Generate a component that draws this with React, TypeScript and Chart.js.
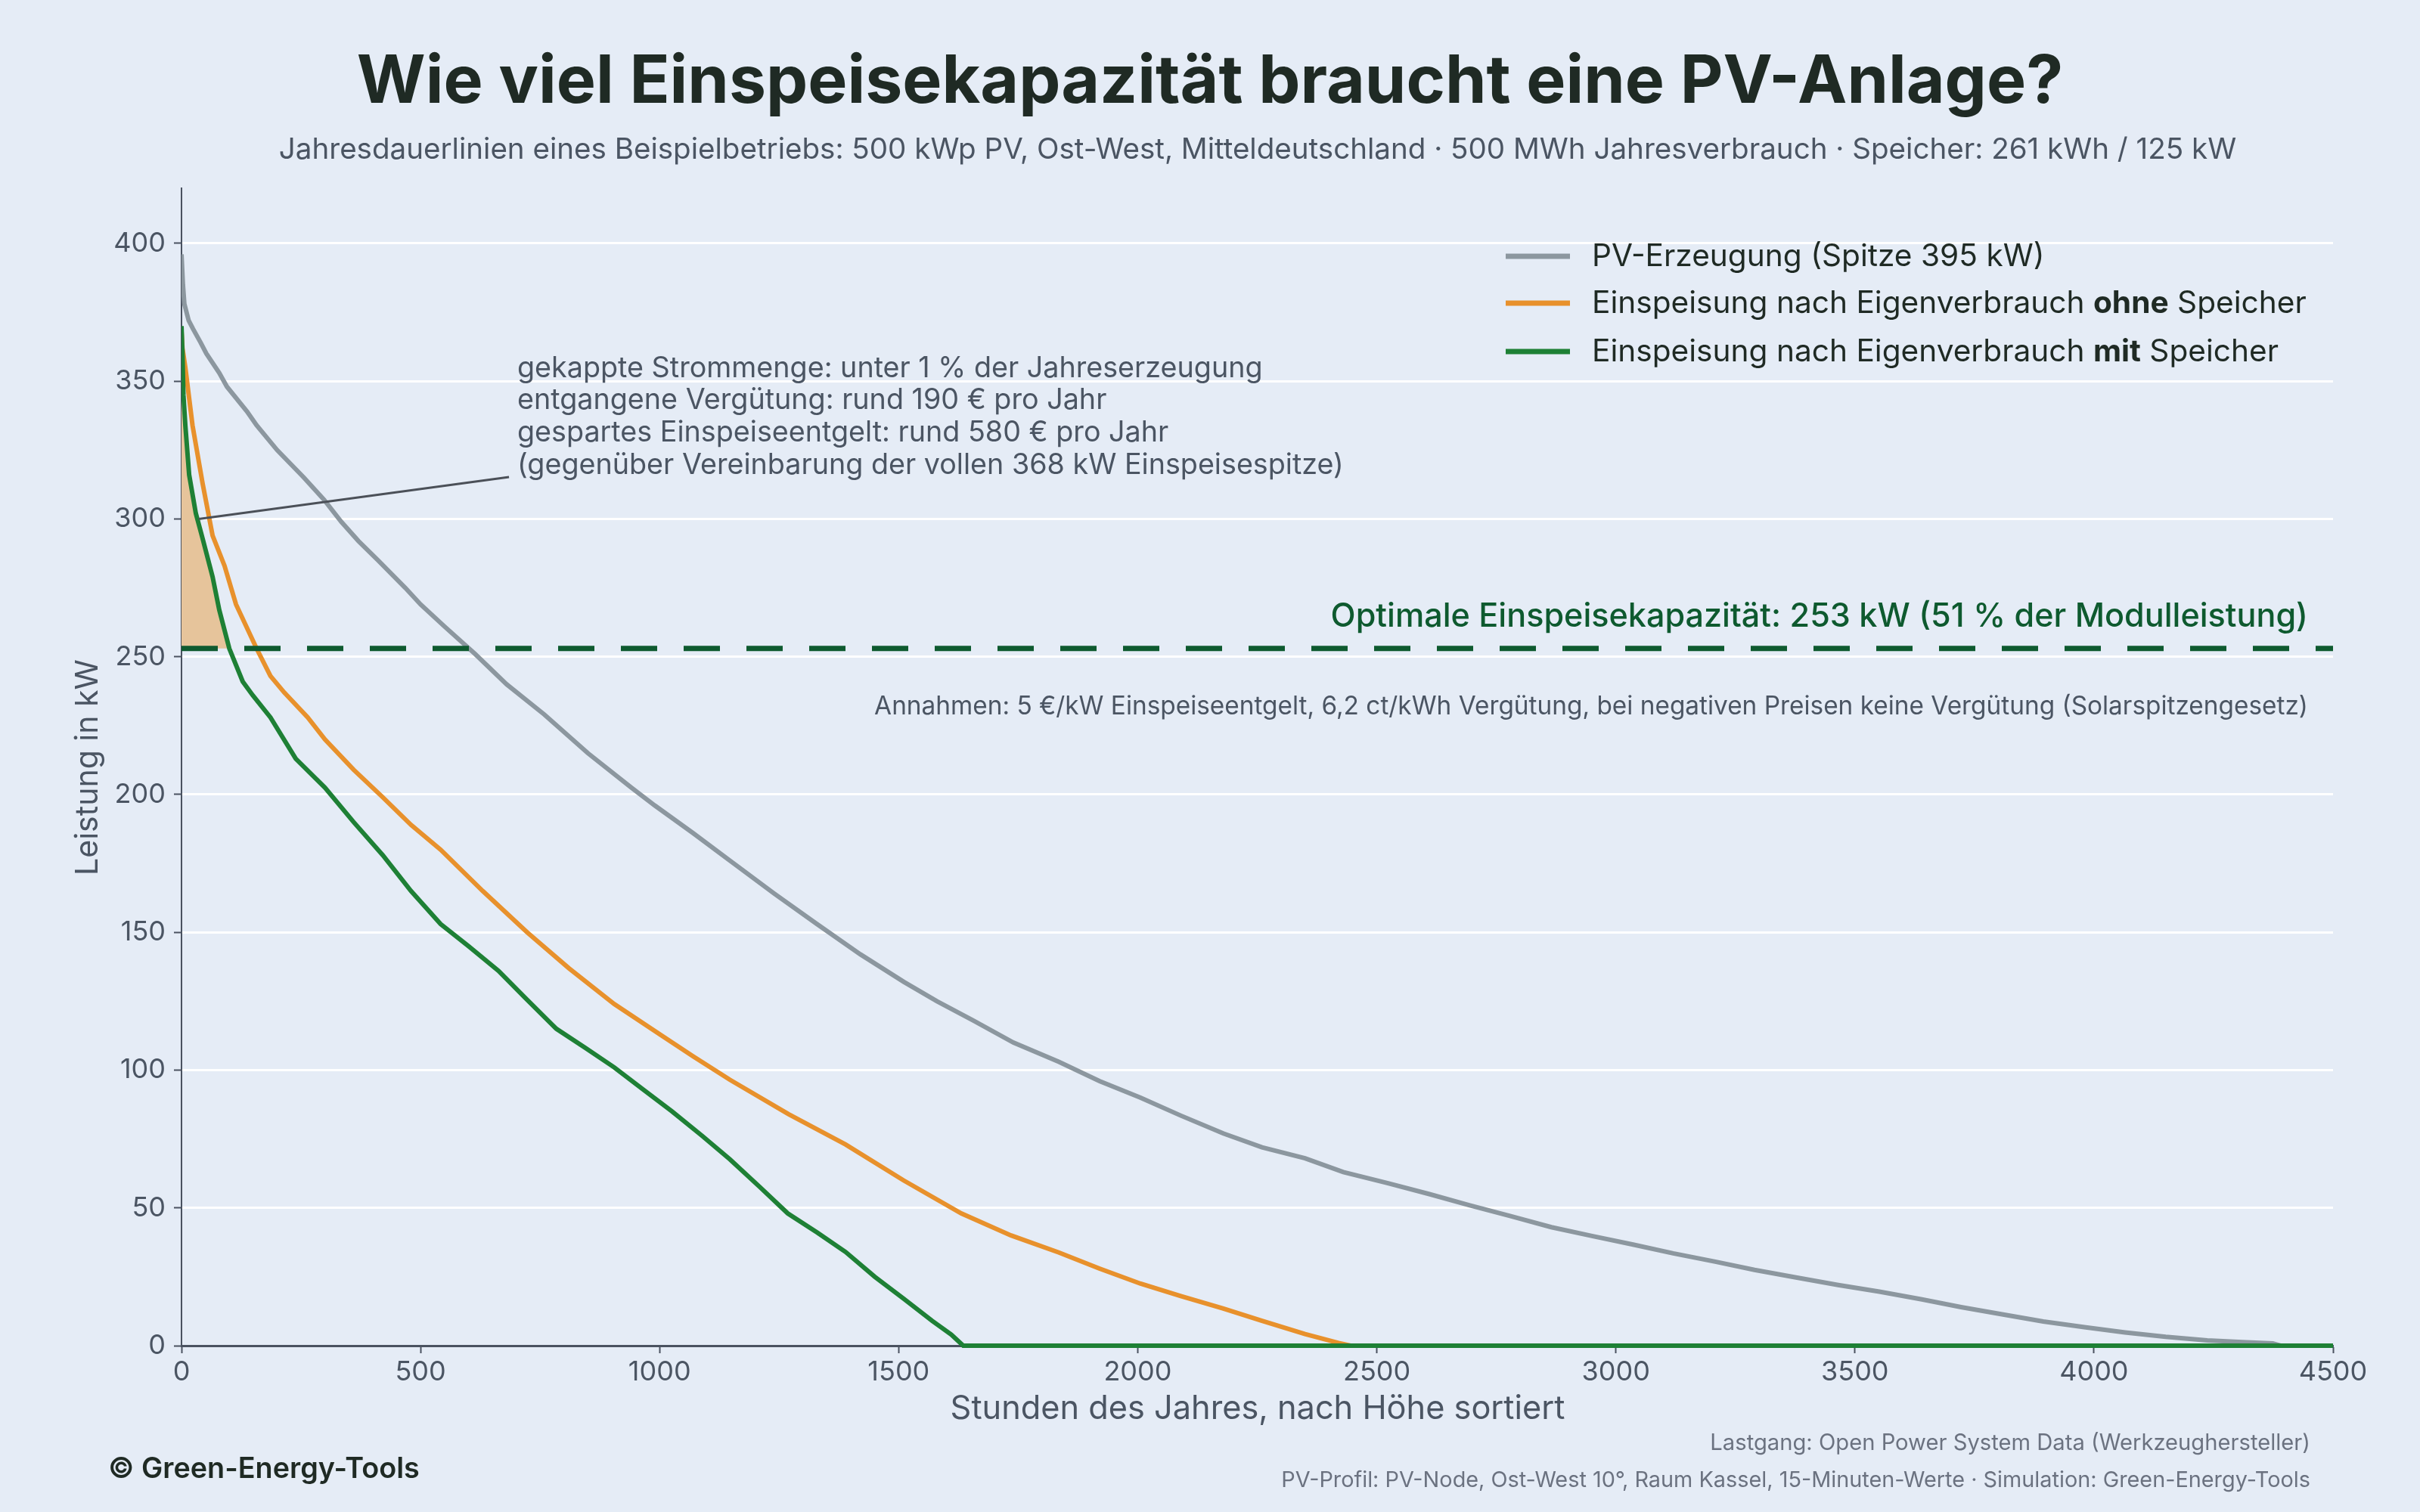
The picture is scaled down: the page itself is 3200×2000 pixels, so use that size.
import React, { useEffect, useRef } from 'react';
import { Chart, registerables } from 'chart.js';

Chart.register(...registerables);

// ---------- data ----------
const pvHours = [0, 3, 6, 15, 24, 40, 52, 79, 95, 137, 157, 200, 256, 298, 334, 370, 411, 468, 500, 550, 614, 680, 759, 850, 941, 990, 1070, 1147, 1240, 1329, 1420, 1511, 1580, 1656, 1740, 1835, 1920, 2006, 2090, 2179, 2260, 2350, 2430, 2522, 2610, 2693, 2780, 2865, 2950, 3036, 3120, 3208, 3290, 3379, 3465, 3551, 3640, 3722, 3810, 3894, 3980, 4065, 4150, 4237, 4310, 4374, 4390, 4500];
const pvKw = [396, 385, 378, 372, 369, 364, 360, 353, 348, 339, 334, 325, 315, 307, 299, 292, 285, 275, 269, 261, 251, 240, 229, 215, 202.5, 196, 186, 176, 164, 153, 142, 132, 125, 118, 110, 103, 96, 90, 83.5, 77, 72, 68, 63, 59, 55, 51, 47, 43, 39.8, 36.7, 33.5, 30.5, 27.5, 24.7, 22, 19.6, 16.8, 14, 11.3, 8.8, 6.7, 4.8, 3.2, 1.9, 1.3, 0.8, 0, 0];

const noStorageHours = [0, 2, 8, 23, 44, 65, 90, 114, 157, 186, 215, 264, 300, 360, 421, 480, 542, 630, 723, 810, 905, 1000, 1070, 1147, 1270, 1389, 1510, 1631, 1735, 1835, 1920, 2006, 2090, 2179, 2260, 2350, 2420, 2445, 4500];
const noStorageKw = [368, 362, 355, 334, 313, 294, 283, 269, 253, 243, 237, 228, 220, 209, 199, 189, 180, 165, 150, 137, 124, 113, 105, 96.5, 84, 73, 60, 48, 40, 33.8, 28, 22.5, 18, 13.5, 9, 4.2, 1, 0, 0];

const storageHours = [0, 2, 4, 8, 16, 30, 44, 65, 79, 100, 128, 149, 186, 239, 300, 360, 421, 480, 542, 600, 663, 720, 784, 845, 905, 965, 1026, 1090, 1147, 1210, 1268, 1330, 1389, 1450, 1511, 1570, 1610, 1635, 4500];
const storageKw = [370, 360, 345, 334, 316, 302, 293, 279, 267, 253, 241, 236, 228, 213, 202.5, 190, 178, 165, 153, 145, 136, 126, 115, 108, 101, 93, 85, 76, 67.6, 57.5, 48, 41, 34, 25, 17, 9, 4, 0, 0];

const optimalCapacityKw = 253;
const annotationAnchor = { hour: 36, kw: 300 };
const annotationEnd = { hour: 685, kw: 315.2 };

const xMin = 0, xMax = 4500, xStep = 500;
const yMin = 0, yMax = 420, yStep = 50;

const titleText = 'Wie viel Einspeisekapazität braucht eine PV-Anlage?';
const subtitleText = 'Jahresdauerlinien eines Beispielbetriebs: 500 kWp PV, Ost-West, Mitteldeutschland · 500 MWh Jahresverbrauch · Speicher: 261 kWh / 125 kW';
const annotationLines = [
  'gekappte Strommenge: unter 1 % der Jahreserzeugung',
  'entgangene Vergütung: rund 190 € pro Jahr',
  'gespartes Einspeiseentgelt: rund 580 € pro Jahr',
  '(gegenüber Vereinbarung der vollen 368 kW Einspeisespitze)',
];
const optimalText = 'Optimale Einspeisekapazität: 253 kW (51 % der Modulleistung)';
const assumptionsText = 'Annahmen: 5 €/kW Einspeiseentgelt, 6,2 ct/kWh Vergütung, bei negativen Preisen keine Vergütung (Solarspitzengesetz)';
const xTitle = 'Stunden des Jahres, nach Höhe sortiert';
const yTitle = 'Leistung in kW';
const copyrightText = '© Green-Energy-Tools';
const sourceLine1 = 'Lastgang: Open Power System Data (Werkzeughersteller)';
const sourceLine2 = 'PV-Profil: PV-Node, Ost-West 10°, Raum Kassel, 15-Minuten-Werte · Simulation: Green-Energy-Tools';

type Seg = { t: string; b?: boolean };
const legendItems: { color: string; segs: Seg[] }[] = [
  { color: '#8c979f', segs: [{ t: 'PV-Erzeugung (Spitze 395 kW)' }] },
  { color: '#e8912c', segs: [{ t: 'Einspeisung nach Eigenverbrauch ' }, { t: 'ohne', b: true }, { t: ' Speicher' }] },
  { color: '#1e8035', segs: [{ t: 'Einspeisung nach Eigenverbrauch ' }, { t: 'mit', b: true }, { t: ' Speicher' }] },
];

// ---------- styles ----------
const BG = '#e5ecf6';
const FAMILY = "Inter, 'Open Sans', sans-serif";
const DARK = '#1f2a24';
const SLATE = '#4b5563';
const LIGHT = '#6b7280';
const AXIS = '#4a5260';
const GREY = '#8c979f';
const ORANGE = '#e8912c';
const GREEN = '#1e8035';
const DASH = '#0e5a2f';
const FILL = '#e6c49b';

function setFont(ctx: CanvasRenderingContext2D, weight: number, size: number) {
  ctx.font = `${weight} ${size}px ${FAMILY}`;
}
function measureSegs(ctx: CanvasRenderingContext2D, segs: Seg[], size: number, w: number, bw: number) {
  let tot = 0;
  for (const s of segs) {
    setFont(ctx, s.b ? bw : w, size);
    tot += ctx.measureText(s.t).width;
  }
  return tot;
}
function fitSize(ctx: CanvasRenderingContext2D, segs: Seg[], nominal: number, target: number, w: number, bw = 700) {
  const m = measureSegs(ctx, segs, nominal, w, bw);
  let s = (nominal * target) / m;
  s = Math.max(nominal * 0.8, Math.min(nominal * 1.3, s));
  return s;
}
function drawSegs(
  ctx: CanvasRenderingContext2D,
  segs: Seg[],
  x: number,
  y: number,
  align: 'left' | 'right' | 'center',
  size: number,
  color: string,
  w = 400,
  bw = 700
) {
  const total = measureSegs(ctx, segs, size, w, bw);
  let start = align === 'left' ? x : align === 'right' ? x - total : x - total / 2;
  ctx.textAlign = 'left';
  ctx.textBaseline = 'alphabetic';
  ctx.fillStyle = color;
  for (const s of segs) {
    setFont(ctx, s.b ? bw : w, size);
    ctx.fillText(s.t, start, y);
    start += ctx.measureText(s.t).width;
  }
}
function fitText(
  ctx: CanvasRenderingContext2D,
  text: string,
  x: number,
  y: number,
  align: 'left' | 'right' | 'center',
  nominal: number,
  target: number,
  color: string,
  w = 400
) {
  const segs = [{ t: text }];
  const size = fitSize(ctx, segs, nominal, target, w);
  drawSegs(ctx, segs, x, y, align, size, color, w);
}

const decorPlugin = {
  id: 'decor',
  beforeDraw(chart: any) {
    const ctx = chart.ctx as CanvasRenderingContext2D;
    ctx.save();
    ctx.fillStyle = BG;
    ctx.fillRect(0, 0, chart.width, chart.height);
    ctx.restore();
  },
  afterDatasetsDraw(chart: any) {
    const ctx = chart.ctx as CanvasRenderingContext2D;
    const { chartArea, scales } = chart;
    const xs = scales.x, ys = scales.y;
    ctx.save();
    // dashed optimal capacity line
    const yOpt = ys.getPixelForValue(optimalCapacityKw);
    ctx.strokeStyle = DASH;
    ctx.lineWidth = 7;
    ctx.setLineDash([48, 35]);
    ctx.beginPath();
    ctx.moveTo(chartArea.left, yOpt);
    ctx.lineTo(chartArea.right, yOpt);
    ctx.stroke();
    ctx.setLineDash([]);
    // annotation connector
    ctx.strokeStyle = '#4b5058';
    ctx.lineWidth = 3;
    ctx.beginPath();
    ctx.moveTo(xs.getPixelForValue(annotationAnchor.hour), ys.getPixelForValue(annotationAnchor.kw));
    ctx.lineTo(xs.getPixelForValue(annotationEnd.hour), ys.getPixelForValue(annotationEnd.kw));
    ctx.stroke();
    ctx.restore();
  },
  afterDraw(chart: any) {
    const ctx = chart.ctx as CanvasRenderingContext2D;
    ctx.save();
    // title & subtitle
    fitText(ctx, titleText, 1600, 136, 'center', 84, 2257, DARK, 700);
    fitText(ctx, subtitleText, 1663, 210, 'center', 36, 2589, SLATE, 400);

    // annotation text block
    const annSize = fitSize(ctx, [{ t: annotationLines[3] }], 34, 1093, 400);
    const annBase = [499, 541, 584, 627];
    annotationLines.forEach((l, i) => drawSegs(ctx, [{ t: l }], 684, annBase[i], 'left', annSize, SLATE, 400));

    // optimal label & assumptions
    fitText(ctx, optimalText, 3052, 829, 'right', 41, 1293, DASH, 500);
    fitText(ctx, assumptionsText, 3052, 945, 'right', 30, 1896, SLATE, 400);

    // legend
    const legY = [339, 401, 465];
    const legSize = fitSize(ctx, legendItems[1].segs, 37, 945, 400, 700);
    legendItems.forEach((it, i) => {
      ctx.strokeStyle = it.color;
      ctx.lineWidth = 7;
      ctx.beginPath();
      ctx.moveTo(1991, legY[i]);
      ctx.lineTo(2076, legY[i]);
      ctx.stroke();
      drawSegs(ctx, it.segs, 2105, legY[i] + 13, 'left', legSize, DARK, 400, 700);
    });

    // axis titles
    fitText(ctx, xTitle, 1663, 1877, 'center', 38, 813, SLATE, 400);
    ctx.save();
    ctx.translate(129, 1015);
    ctx.rotate(-Math.PI / 2);
    fitText(ctx, yTitle, 0, 0, 'center', 37, 286, SLATE, 400);
    ctx.restore();

    // footer
    fitText(ctx, copyrightText, 143, 1955, 'left', 34, 412, DARK, 600);
    fitText(ctx, sourceLine1, 3055, 1918, 'right', 28, 794, LIGHT, 400);
    fitText(ctx, sourceLine2, 3055, 1967, 'right', 28, 1361, LIGHT, 400);
    ctx.restore();
  },
};

function toPoints(hours: number[], kw: number[]) {
  return hours.map((h, i) => ({ x: h, y: kw[i] }));
}

function fillPoints() {
  const pts: { x: number; y: number }[] = [];
  for (let i = 0; i < storageHours.length; i++) {
    if (storageKw[i] >= optimalCapacityKw) {
      pts.push({ x: storageHours[i], y: storageKw[i] });
    } else {
      const h0 = storageHours[i - 1], k0 = storageKw[i - 1];
      const h1 = storageHours[i], k1 = storageKw[i];
      const hc = h0 + ((k0 - optimalCapacityKw) / (k0 - k1)) * (h1 - h0);
      if (hc > pts[pts.length - 1].x) pts.push({ x: hc, y: optimalCapacityKw });
      break;
    }
  }
  return pts;
}

export default function App() {
  const ref = useRef<HTMLCanvasElement>(null);
  useEffect(() => {
    document.body.style.margin = '0';
    const lineDs = (label: string, hours: number[], kw: number[], color: string) => ({
      label,
      data: toPoints(hours, kw),
      borderColor: color,
      backgroundColor: color,
      borderWidth: 6,
      pointRadius: 0,
      fill: false,
      tension: 0,
      clip: { left: 0, top: 20, right: 20, bottom: 20 },
    });
    const chart = new Chart(ref.current as HTMLCanvasElement, {
      type: 'line',
      data: {
        datasets: [
          lineDs('Einspeisung mit Speicher', storageHours, storageKw, GREEN),
          lineDs('Einspeisung ohne Speicher', noStorageHours, noStorageKw, ORANGE),
          lineDs('PV-Erzeugung', pvHours, pvKw, GREY),
          {
            label: 'gekappt',
            data: fillPoints(),
            borderWidth: 0,
            borderColor: 'rgba(0,0,0,0)',
            backgroundColor: FILL,
            pointRadius: 0,
            fill: { value: optimalCapacityKw },
            tension: 0,
          } as any,
        ],
      },
      options: {
        animation: false,
        responsive: false,
        events: [],
        layout: { padding: { top: 249, right: 115, left: 0, bottom: 0 } },
        plugins: {
          legend: { display: false },
          tooltip: { enabled: false },
          title: { display: false },
        },
        scales: {
          x: {
            type: 'linear',
            min: xMin,
            max: xMax,
            ticks: {
              stepSize: xStep,
              color: SLATE,
              font: { family: FAMILY, size: 36 },
              padding: 4,
              maxRotation: 0,
              autoSkip: false,
              callback: (v: any) => String(v),
            },
            grid: { display: true, drawOnChartArea: false, drawTicks: true, tickLength: 10, tickColor: AXIS, tickWidth: 2 },
            border: { display: true, color: AXIS, width: 3 },
            afterFit: (s: any) => {
              s.height = 220;
            },
          },
          y: {
            type: 'linear',
            min: yMin,
            max: yMax,
            ticks: {
              stepSize: yStep,
              includeBounds: false,
              color: SLATE,
              font: { family: FAMILY, size: 36 },
              padding: 11,
              callback: (v: any) => String(v),
            },
            grid: { color: '#ffffff', lineWidth: 3, drawTicks: true, tickLength: 10, tickColor: AXIS, tickWidth: 2 },
            border: { display: true, color: AXIS, width: 2 },
            afterFit: (s: any) => {
              s.width = 240;
            },
          },
        },
      } as any,
      plugins: [decorPlugin],
    });
    return () => chart.destroy();
  }, []);
  return (
    <div style={{ position: 'fixed', left: 0, top: 0, width: 3200, height: 2000, background: BG }}>
      <canvas ref={ref} width={3200} height={2000} style={{ width: 3200, height: 2000, display: 'block' }} />
    </div>
  );
}
